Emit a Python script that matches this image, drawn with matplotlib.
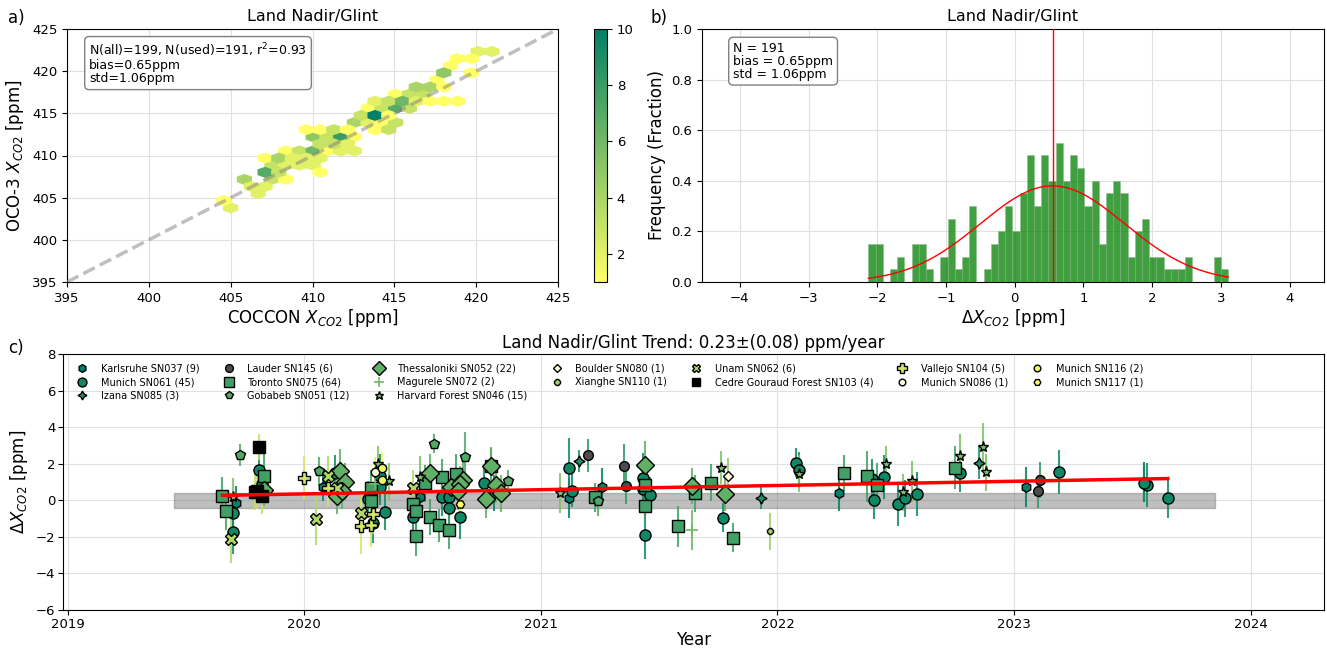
import numpy as np
import matplotlib.pyplot as plt
from matplotlib import cm

# ---------------- panel a: hexbin cells (COCCON, OCO-3, count)
hex_x = [420.2, 421.0, 418.8, 419.6, 418.4, 418.0, 419.6, 417.6, 416.4, 417.1, 418.0,
         415.1, 415.9, 416.7, 413.8, 414.6, 415.5, 416.3, 417.1, 417.9, 418.8,
         413.4, 414.2, 415.1, 415.9, 412.9, 413.8, 414.6, 412.5, 413.3, 414.2, 415.1,
         409.6, 410.5, 411.3, 412.1, 413.8, 414.6, 410.1, 410.9, 411.7, 412.5,
         410.5, 411.3, 412.1, 408.3, 409.1, 410.1, 410.9, 411.8, 412.6,
         407.1, 407.9, 408.7, 409.5, 410.4, 407.5, 408.3, 409.1, 409.9,
         407.1, 407.9, 410.4, 405.9, 407.5, 408.3, 406.3, 407.1, 406.7, 404.6, 405.0]
hex_y = [422.3, 422.3, 421.4, 421.4, 420.5, 419.7, 419.7, 418.9, 418.0, 418.0, 418.0,
         417.2, 417.2, 417.2, 416.4, 416.4, 416.4, 416.4, 416.4, 416.4, 416.4,
         415.5, 415.5, 415.5, 415.5, 414.7, 414.7, 414.7, 413.8, 413.8, 413.8, 413.8,
         413.0, 413.0, 413.0, 413.0, 413.0, 413.0, 412.2, 412.2, 412.2, 412.2,
         411.3, 411.3, 411.3, 410.5, 410.5, 410.5, 410.5, 410.5, 410.5,
         409.7, 409.7, 409.7, 409.7, 409.7, 408.8, 408.8, 408.8, 408.8,
         408.0, 408.0, 408.0, 407.1, 407.1, 407.1, 406.3, 406.3, 405.5, 404.6, 403.8]
hex_n = [2, 2, 1, 1, 1, 5, 1, 1, 4, 4, 1,
         1, 3, 3, 2, 3, 6, 2, 1, 1, 1,
         1, 3, 7, 3, 3, 10, 1, 4, 2, 1, 3,
         1, 1, 3, 1, 1, 3, 5, 3, 8, 1,
         3, 3, 2, 1, 3, 6, 1, 2, 2,
         1, 4, 2, 2, 2, 3, 2, 2, 2,
         7, 3, 1, 4, 3, 1, 2, 2, 2, 1, 2]

# ---------------- panel b: histogram (fraction per bin) and gaussian fit
hist_lo, hist_hi = -2.13, 3.11
hist_freq = [0.15, 0.15, 0.0, 0.05, 0.10, 0.0, 0.15, 0.15, 0.05, 0.0,
             0.10, 0.25, 0.05, 0.10, 0.30, 0.0, 0.05, 0.15, 0.20, 0.30,
             0.20, 0.35, 0.50, 0.30, 0.50, 0.40, 0.55, 0.40, 0.50, 0.45,
             0.30, 0.40, 0.15, 0.35, 0.40, 0.35, 0.10, 0.20, 0.25, 0.10,
             0.10, 0.05, 0.05, 0.05, 0.10, 0.0, 0.0, 0.0, 0.10, 0.05]
fit_mu, fit_sigma = 0.55, 1.05

# ---------------- panel c: per-site (decimal year, dXCO2, error)
karlsruhe = [(2019.71, -0.14, 0.9), (2020.08, 0.74, 0.8), (2020.49, 0.16, 1.0), (2020.80, 0.40, 1.0),
             (2021.12, 0.13, 1.1), (2021.26, 0.74, 1.0), (2022.26, 0.40, 1.0), (2023.05, 0.71, 1.1),
             (2023.55, 1.00, 1.1)]
munich061 = [(2019.70, -0.67, 1.0), (2019.70, -1.76, 1.2), (2019.81, 1.65, 1.1), (2019.82, 0.89, 1.0),
             (2020.13, 1.47, 1.0), (2020.29, -1.25, 1.1), (2020.27, 0.05, 1.0), (2020.32, 1.32, 1.2),
             (2020.32, 0.74, 1.0), (2020.34, -0.63, 1.0), (2020.46, -0.89, 1.1), (2020.58, 0.16, 1.0),
             (2020.61, 0.16, 1.0), (2020.61, -0.42, 1.0), (2020.66, -0.92, 1.2), (2020.76, 0.92, 0.9),
             (2021.12, 1.78, 1.6), (2021.13, 0.53, 0.9), (2021.43, 1.21, 1.4), (2021.43, 0.60, 1.0),
             (2021.44, -1.92, 1.3), (2021.46, 0.29, 1.0), (2021.77, -0.96, 0.8), (2022.08, 2.05, 0.8),
             (2022.09, 1.65, 1.0), (2022.40, 1.14, 1.1), (2022.41, 0.00, 1.0), (2022.45, 1.29, 1.2),
             (2022.51, -0.23, 1.2), (2022.54, 0.11, 1.0), (2022.59, 0.36, 1.2), (2022.77, 1.47, 1.0),
             (2023.19, 1.56, 1.2), (2023.56, 0.82, 1.2), (2023.55, 0.92, 1.0), (2023.65, 0.13, 1.1)]
izana = [(2021.16, 2.14, 0.6), (2021.93, 0.11, 0.6), (2022.85, 2.05, 0.9)]
lauder = [(2021.20, 2.46, 0.9), (2021.35, 1.89, 1.2), (2021.36, 0.80, 1.0), (2023.10, 0.49, 0.9),
          (2023.11, 1.12, 1.0)]
toronto = [(2019.654, 0.26, 1.0), (2019.668, -0.60, 1.0), (2019.83, 1.34, 1.2), (2020.28, 0.67, 1.0),
           (2020.28, -0.05, 1.0), (2020.46, -0.20, 1.0), (2020.47, -0.56, 1.0), (2020.47, -1.94, 1.1),
           (2020.51, 0.92, 1.0), (2020.53, -0.92, 1.0), (2020.57, -1.36, 0.9), (2020.61, -1.65, 1.0),
           (2020.58, 1.25, 1.0), (2020.64, 1.43, 1.1), (2020.79, 1.85, 1.0), (2021.23, 0.16, 0.8),
           (2021.44, 0.85, 1.0), (2021.44, -0.33, 1.0), (2021.58, -1.43, 1.1), (2021.65, 0.38, 1.0),
           (2021.72, 0.96, 1.0), (2021.81, -2.05, 0.8), (2022.28, 1.50, 1.0), (2022.38, 1.32, 1.4),
           (2022.42, 0.85, 1.2), (2022.75, 1.79, 1.2)]
gobabeb = [(2019.73, 2.48, 0.6), (2020.06, 1.58, 0.8), (2020.55, 3.10, 0.5), (2020.68, 2.34, 1.4),
           (2020.86, 1.07, 0.6), (2021.24, -0.05, 0.8)]
thessaloniki = [(2019.83, 0.57, 0.9), (2020.15, 1.61, 1.2), (2020.17, 1.02, 1.0), (2020.14, 0.23, 1.0),
                (2020.16, 0.53, 1.0), (2020.53, 1.51, 1.0), (2020.62, 0.74, 1.0), (2020.67, 1.10, 1.0),
                (2020.66, 0.90, 1.0), (2020.65, 0.49, 1.0), (2020.79, 1.89, 1.0), (2020.81, 0.85, 1.0),
                (2020.77, 0.05, 1.0), (2020.83, 0.38, 1.0), (2021.44, 1.94, 1.3), (2021.64, 0.78, 1.0),
                (2021.78, 0.34, 0.9)]
magurele = [(2021.64, -1.61, 1.1), (2020.30, 0.90, 1.2)]
harvard = [(2019.70, 0.20, 1.0), (2020.31, 1.97, 1.0), (2020.36, 1.03, 1.0), (2020.49, 1.30, 1.1),
           (2021.08, 0.40, 1.1), (2021.76, 1.79, 0.9), (2022.09, 1.45, 1.0), (2022.46, 1.97, 1.0),
           (2022.53, 0.43, 1.0), (2022.57, 1.03, 1.1), (2022.77, 2.41, 1.2), (2022.87, 2.93, 1.3),
           (2022.88, 1.52, 1.0)]
boulder = [(2021.79, 1.32, 1.0)]
xianghe = [(2021.97, -1.70, 1.0)]
unam = [(2019.69, -2.14, 1.3), (2020.05, -1.05, 1.4), (2020.10, 1.32, 1.1), (2020.14, 0.67, 1.0),
        (2020.24, -0.67, 1.0), (2020.46, 0.67, 1.0)]
cedre = [(2019.81, 2.92, 0.7), (2019.80, 0.53, 1.0), (2019.82, 0.23, 1.0), (2019.79, 0.45, 1.0)]
vallejo = [(2020.00, 1.21, 1.2), (2020.10, 0.67, 1.0), (2020.24, -1.43, 1.5), (2020.28, -1.36, 1.2),
           (2020.29, -0.74, 1.1)]
munich086 = [(2020.30, 1.55, 0.8)]
munich116 = [(2020.33, 1.76, 0.9), (2020.33, 1.10, 0.8)]
munich117 = [(2020.66, -0.23, 0.8)]

site_labels = ['Karlsruhe SN037 (9)', 'Munich SN061 (45)', 'Izana SN085 (3)', 'Lauder SN145 (6)',
               'Toronto SN075 (64)', 'Gobabeb SN051 (12)', 'Thessaloniki SN052 (22)',
               'Magurele SN072 (2)', 'Harvard Forest SN046 (15)', 'Boulder SN080 (1)',
               'Xianghe SN110 (1)', 'Unam SN062 (6)', 'Cedre Gouraud Forest SN103 (4)',
               'Vallejo SN104 (5)', 'Munich SN086 (1)', 'Munich SN116 (2)', 'Munich SN117 (1)']
site_data = [karlsruhe, munich061, izana, lauder, toronto, gobabeb, thessaloniki, magurele, harvard,
             boulder, xianghe, unam, cedre, vallejo, munich086, munich116, munich117]
site_markers = ['h', 'o', (4, 1, 0), 'o', 's', 'p', 'D', '+', '*', 'D', '8', 'X', 's', 'P', 'o', 'o', 'H']
site_sizes = [7, 8, 8, 7, 9, 7, 9, 9, 8, 5, 5, 8, 8, 9, 6, 6, 6]

trend_t0, trend_t1 = 2019.654, 2023.65
trend_b0, trend_slope = 0.27, 0.23
band_t0, band_t1, band_half = 2019.45, 2023.85, 0.4

W, H = 1327, 650
fig = plt.figure(figsize=(W / 100, H / 100), dpi=100)

# ---- a) hexbin
ax_a = fig.add_axes([67 / W, 1 - 282 / H, 491 / W, 253 / H])
sx, sy = 0.84, 1.685
ext = (405.0 - sx, 405.0 - sx + 21 * sx, 403.8, 403.8 + 11 * sy)
hb = ax_a.hexbin(hex_x, hex_y, C=hex_n, reduce_C_function=np.sum, gridsize=(21, 11),
                 extent=ext, cmap='summer_r', vmin=1, vmax=10, zorder=3)
ax_a.plot([395, 425], [395, 425], ls='--', color='gray', alpha=0.5, lw=2.5, zorder=4)
ax_a.set_xlim(395, 425)
ax_a.set_ylim(395, 425)
ax_a.grid(True, color='0.88', lw=0.8)
ax_a.set_axisbelow(True)
ax_a.set_title('Land Nadir/Glint', fontsize=11.5)
ax_a.set_xlabel('COCCON $X_{CO2}$ [ppm]', fontsize=12, labelpad=2)
ax_a.set_ylabel('OCO-3 $X_{CO2}$ [ppm]', fontsize=12)
ax_a.tick_params(labelsize=9.5)
ax_a.text(0.045, 0.95, 'N(all)=199, N(used)=191, r$^2$=0.93\nbias=0.65ppm\nstd=1.06ppm',
          transform=ax_a.transAxes, va='top', ha='left', fontsize=9, linespacing=1.0,
          bbox=dict(boxstyle='round,pad=0.35', fc='white', ec='gray'), zorder=6)

cax = fig.add_axes([594 / W, 1 - 282 / H, 13 / W, 253 / H])
cb = fig.colorbar(hb, cax=cax, ticks=[2, 4, 6, 8, 10])
cb.ax.tick_params(labelsize=9.5)

# ---- b) histogram
ax_b = fig.add_axes([702 / W, 1 - 282 / H, 622 / W, 253 / H])
edges = np.linspace(hist_lo, hist_hi, len(hist_freq) + 1)
ax_b.bar(edges[:-1], hist_freq, width=np.diff(edges), align='edge', color='green', alpha=0.75,
         edgecolor=(0.55, 0.7, 0.55), lw=0.4, zorder=3)
xs = np.linspace(hist_lo, hist_hi, 200)
ax_b.plot(xs, np.exp(-0.5 * ((xs - fit_mu) / fit_sigma) ** 2) / (fit_sigma * np.sqrt(2 * np.pi)),
          color='red', lw=1, zorder=4)
ax_b.axvline(fit_mu, color='red', lw=1, zorder=4)
ax_b.set_xlim(-4.55, 4.5)
ax_b.set_ylim(0, 1.0)
ax_b.set_xticks(range(-4, 5))
ax_b.set_xticklabels(['\u22124', '\u22123', '\u22122', '\u22121', '0', '1', '2', '3', '4'])
ax_b.grid(True, color='0.88', lw=0.8)
ax_b.set_axisbelow(True)
ax_b.set_title('Land Nadir/Glint', fontsize=11.5)
ax_b.set_xlabel('$\\Delta X_{CO2}$ [ppm]', fontsize=12, labelpad=2)
ax_b.set_ylabel('Frequency (Fraction)', fontsize=12)
ax_b.tick_params(labelsize=9.5)
ax_b.text(0.05, 0.95, 'N = 191\nbias = 0.65ppm\nstd = 1.06ppm', transform=ax_b.transAxes,
          va='top', ha='left', fontsize=9, linespacing=1.0,
          bbox=dict(boxstyle='round,pad=0.35', fc='white', ec='gray'), zorder=6)

# ---- c) time series
ax_c = fig.add_axes([63 / W, 1 - 610 / H, 1261 / W, 256 / H])
colors = cm.summer(np.linspace(0, 1, len(site_data)))
for i, (pts, lab, mk, ms) in enumerate(zip(site_data, site_labels, site_markers, site_sizes)):
    t = [p[0] for p in pts]
    v = [p[1] for p in pts]
    e = [p[2] for p in pts]
    col = colors[i]
    face = col
    if lab.startswith('Lauder'):
        face = (0.3, 0.3, 0.3)
    if lab.startswith('Cedre'):
        face = 'black'
    if lab.startswith('Boulder') or lab.startswith('Munich SN086'):
        face = (1.0, 1.0, 0.85)
    ax_c.errorbar(t, v, yerr=e, fmt='none', ecolor=col, elinewidth=1.5, alpha=0.85, zorder=3)
    if mk == '+':
        ax_c.plot(t, v, ls='none', marker=mk, ms=ms, color=col, mew=1.2, label=lab, zorder=4)
    else:
        ax_c.plot(t, v, ls='none', marker=mk, ms=ms, mfc=face, mec='black', mew=1.0,
                  label=lab, zorder=4)

ax_c.fill_between([band_t0, band_t1], -band_half, band_half, color='gray', alpha=0.5, zorder=2)
tt = np.array([trend_t0, trend_t1])
ax_c.plot(tt, trend_b0 + trend_slope * (tt - trend_t0), color='red', lw=2.5, zorder=5)
ax_c.set_xlim(2018.98, 2024.31)
ax_c.set_ylim(-6, 8)
ax_c.set_xticks(range(2019, 2025))
ax_c.set_xticklabels([str(y) for y in range(2019, 2025)])
ax_c.set_yticks(range(-6, 9, 2))
ax_c.set_yticklabels(['\u22126', '\u22124', '\u22122', '0', '2', '4', '6', '8'])
ax_c.grid(True, color='0.88', lw=0.8)
ax_c.set_axisbelow(True)
ax_c.tick_params(labelsize=9.5, pad=2)
ax_c.set_title('Land Nadir/Glint Trend: 0.23\u00b1(0.08) ppm/year', fontsize=12, pad=4)
ax_c.set_xlabel('Year', fontsize=12, labelpad=0)
ax_c.set_ylabel('$\\Delta X_{CO2}$ [ppm]', fontsize=12)
ax_c.legend(loc='upper left', ncol=7, frameon=False, fontsize=7, handletextpad=0.9,
            columnspacing=2.0, labelspacing=0.35, borderaxespad=0.6, markerscale=0.8)

fig.text(8 / W, 1 - 18 / H, 'a)', fontsize=12, va='center')
fig.text(650 / W, 1 - 18 / H, 'b)', fontsize=12, va='center')
fig.text(8 / W, 1 - 348 / H, 'c)', fontsize=12, va='center')

fig.savefig('out.png', dpi=100)
